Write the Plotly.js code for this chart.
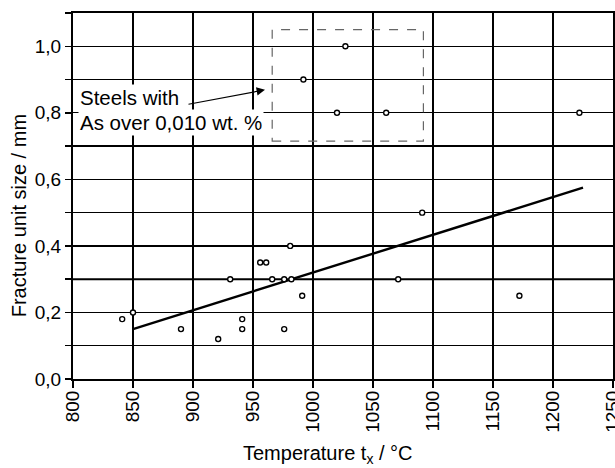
<!DOCTYPE html>
<html>
<head>
<meta charset="utf-8">
<script src="https://cdn.plot.ly/plotly-3.0.1.min.js"></script>
<style>html,body{margin:0;padding:0;background:#fff;overflow:hidden;}#chart{width:615px;height:468px;}</style>
</head>
<body>
<div id="chart"></div>
<script>
// Data
const tempMain = [841, 850, 890, 921, 931, 941, 941, 956, 961, 966, 976, 976, 981, 982, 991, 1071, 1091, 1172];
const sizeMain = [0.18, 0.20, 0.15, 0.12, 0.30, 0.18, 0.15, 0.35, 0.35, 0.30, 0.30, 0.15, 0.40, 0.30, 0.25, 0.30, 0.50, 0.25];
const tempAs = [992, 1027, 1020, 1061, 1222];
const sizeAs = [0.90, 1.00, 0.80, 0.80, 0.80];
const fitTemp = [850, 1225];
const fitSize = [0.15, 0.575];
const xTicks = [800, 850, 900, 950, 1000, 1050, 1100, 1150, 1200, 1250];
const boxTemp = [966, 1092];
const boxSize = [0.715, 1.05];
const thickGrid = [0.3, 0.7];
const noteLines = ['Steels with', 'As over 0,010 wt. %'];

const FONT = 'Arial, Liberation Sans, Helvetica, sans-serif';
const markerStyle = {symbol: 'circle', size: 5, color: '#ffffff', line: {color: '#000', width: 1.4}};

const traces = [
  {x: fitTemp, y: fitSize, mode: 'lines', line: {color: '#000', width: 2.4}, hoverinfo: 'skip'},
  {x: tempMain, y: sizeMain, mode: 'markers', marker: markerStyle},
  {x: tempAs, y: sizeAs, mode: 'markers', marker: markerStyle}
];

const shapes = thickGrid.map(v => ({
  type: 'line', xref: 'x', yref: 'y', x0: xTicks[0], x1: xTicks[xTicks.length-1], y0: v, y1: v,
  line: {color: '#000', width: 2}, layer: 'below'
}));
shapes.push({
  type: 'rect', xref: 'x', yref: 'y', x0: boxTemp[0], x1: boxTemp[1], y0: boxSize[0], y1: boxSize[1],
  line: {color: '#666', width: 1.2, dash: 'dash'}, fillcolor: 'rgba(0,0,0,0)'
});

const layout = {
  width: 615, height: 468,
  margin: {l: 72.5, r: 2, t: 13, b: 88.5},
  paper_bgcolor: '#fff', plot_bgcolor: '#fff',
  showlegend: false,
  separators: ',.',
  font: {family: FONT, size: 19, color: '#000'},
  xaxis: {
    range: [800, 1250], tickvals: xTicks, ticktext: xTicks.map(String), tickangle: -90,
    showgrid: true, gridcolor: '#000', gridwidth: 1.3,
    showline: true, linecolor: '#000', linewidth: 2, mirror: true,
    ticks: 'outside', ticklen: 7, tickwidth: 1.5, tickcolor: '#000', ticklabelstandoff: -5,
    ticklabeloverflow: 'allow',
    tickfont: {family: FONT, size: 19}, zeroline: false, fixedrange: true, automargin: false
  },
  yaxis: {
    range: [0, 1.1], dtick: 0.2, tick0: 0, tickformat: '.1f',
    showgrid: true, gridcolor: '#000', gridwidth: 1.3,
    showline: true, linecolor: '#000', linewidth: 2, mirror: true,
    ticks: 'outside', ticklen: 6, tickwidth: 1.5, tickcolor: '#000',
    ticklabeloverflow: 'allow',
    minor: {dtick: 0.1, tick0: 0, showgrid: true, gridcolor: '#000', gridwidth: 1.3, ticks: 'outside', ticklen: 6, tickwidth: 1.5, tickcolor: '#000'},
    tickfont: {family: FONT, size: 19}, zeroline: false, fixedrange: true, automargin: false
  },
  shapes: shapes,
  annotations: [
    {xref: 'x', yref: 'y', x: 803.8, y: 0.846, xanchor: 'left', yanchor: 'middle', align: 'left',
     text: noteLines[0], showarrow: false, bgcolor: '#fff', borderpad: 1,
     font: {family: FONT, size: 20.5, color: '#000'}},
    {xref: 'x', yref: 'y', x: 803.8, y: 0.772, xanchor: 'left', yanchor: 'middle', align: 'left',
     text: noteLines[1], showarrow: false, bgcolor: '#fff', borderpad: 1,
     font: {family: FONT, size: 20.5, color: '#000'}},
    {xref: 'x', yref: 'y', x: 960, y: 0.869, axref: 'x', ayref: 'y', ax: 895, ay: 0.825,
     text: '', showarrow: true, arrowhead: 2, arrowsize: 1.4, arrowwidth: 1.2, arrowcolor: '#000', standoff: 0},
    {xref: 'paper', yref: 'paper', x: 0.472, y: -0.205, xanchor: 'center', yanchor: 'middle',
     text: 'Temperature t<sub>x</sub> / °C', showarrow: false, font: {family: FONT, size: 20, color: '#000'}},
    {xref: 'paper', yref: 'paper', x: -0.1008, y: 0.446, xanchor: 'center', yanchor: 'middle', textangle: -90,
     text: 'Fracture unit size / mm', showarrow: false, font: {family: FONT, size: 20, color: '#000'}}
  ]
};

Plotly.newPlot('chart', traces, layout, {staticPlot: true, displayModeBar: false});
</script>
</body>
</html>
